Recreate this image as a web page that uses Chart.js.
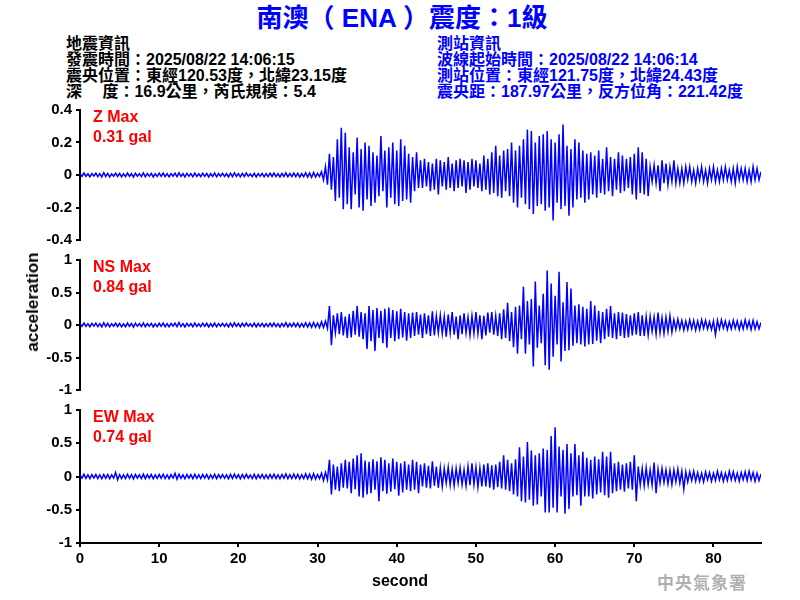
<!DOCTYPE html>
<html>
<head>
<meta charset="utf-8">
<script src="https://cdn.jsdelivr.net/npm/chart.js@4.4.1/dist/chart.umd.min.js"></script>
<style>
body { margin: 0; background: #fff; width: 800px; height: 600px; position: relative; overflow: hidden;
  font-family: Arial, "Liberation Sans", "Noto Sans CJK TC", sans-serif; }
.box { position: absolute; left: 0; width: 800px; }
.txt { position: absolute; white-space: nowrap; font-weight: bold; }
#title { left: 0; width: 804px; top: 3px; text-align: center; font-size: 26px; line-height: 30px; color: #0000ff; text-spacing-trim: space-all; }
.info { font-size: 16px; line-height: 16px; top: 36px; text-spacing-trim: space-all; }
#infoL { left: 66px; color: #000; }
#infoR { left: 437px; color: #0000ff; }
.max { left: 93px; color: #ff0000; font-size: 16px; line-height: 20px; }
#ylab { left: 33px; top: 302px; font-size: 17px; transform: translate(-50%, -50%) rotate(-90deg); }
#xlab { left: 400px; top: 581px; font-size: 16px; transform: translate(-50%, -50%); }
#mark { left: 657px; top: 569px; font-size: 17px; letter-spacing: 1px; color: #b0b0b0; font-family: "Noto Sans CJK TC", serif; }
</style>
</head>
<body>
<div id="title" class="txt">南澳（ ENA ）震度：1級</div>
<div id="infoL" class="txt info">地震資訊<br>發震時間：2025/08/22 14:06:15<br>震央位置：東經120.53度，北緯23.15度<br>深　 度：16.9公里，芮氏規模：5.4</div>
<div id="infoR" class="txt info">測站資訊<br>波線起始時間：2025/08/22 14:06:14<br>測站位置：東經121.75度，北緯24.43度<br>震央距：187.97公里，反方位角：221.42度</div>

<div class="box" style="top:97px;height:156px"><canvas id="chZ"></canvas></div>
<div class="box" style="top:247px;height:156px"><canvas id="chNS"></canvas></div>
<div class="box" style="top:397px;height:203px"><canvas id="chEW"></canvas></div>

<div class="txt max" style="top:107px">Z Max<br>0.31 gal</div>
<div class="txt max" style="top:257px">NS Max<br>0.84 gal</div>
<div class="txt max" style="top:407px">EW Max<br>0.74 gal</div>
<div id="ylab" class="txt">acceleration</div>
<div id="xlab" class="txt">second</div>
<div id="mark" class="txt">中央氣象署</div>

<script>
// every array is sampled each 0.25 s: quiet part 0 .. 29.75 s, strong part 30 .. 86 s
const quietZ = [
  0.01,-0.008,0.012,-0.009,0.007,-0.011,0.009,-0.006,0.011,-0.01,0.008,-0.012,
  0.014,-0.009,0.01,-0.012,0.008,-0.007,0.011,-0.009,0.01,-0.011,0.007,-0.01,
  0.012,-0.008,0.009,-0.013,0.011,-0.007,0.008,-0.01,0.013,-0.011,0.009,-0.008,
  0.01,-0.012,0.007,-0.009,0.011,-0.008,0.012,-0.01,0.008,-0.011,0.009,-0.007,
  0.011,-0.01,0.013,-0.009,0.008,-0.012,0.01,-0.008,0.009,-0.011,0.012,-0.009,
  0.007,-0.01,0.011,-0.008,0.01,-0.012,0.008,-0.009,0.012,-0.011,0.009,-0.007,
  0.01,-0.009,0.008,-0.012,0.011,-0.01,0.013,-0.008,0.009,-0.011,0.01,-0.009,
  0.012,-0.008,0.007,-0.01,0.011,-0.012,0.009,-0.008,0.01,-0.011,0.008,-0.01,
  0.011,-0.009,0.012,-0.01,0.008,-0.012,0.01,-0.009,0.013,-0.011,0.009,-0.01,
  0.012,-0.01,0.011,-0.013,0.009,-0.011,0.014,-0.012,0.012,-0.015,0.016,-0.013]
const strongZ = [
  0.01,-0.01,0.02,-0.03, 0.05,-0.06,0.13,-0.09, 0.11,-0.16,0.22,-0.14, 0.29,-0.21,0.26,-0.18,
  0.17,-0.21,0.14,-0.12, 0.23,-0.2,0.16,-0.22, 0.2,-0.15,0.18,-0.19, 0.14,-0.17,0.12,-0.13,
  0.24,-0.1,0.15,-0.2, 0.17,-0.14,0.2,-0.18, 0.15,-0.19,0.22,-0.16, 0.18,-0.15,0.13,-0.17,
  0.11,-0.1,0.14,-0.08, 0.09,-0.08,0.1,-0.07, 0.08,-0.1,0.07,-0.09, 0.1,-0.12,0.09,-0.07,
  0.08,-0.09,0.11,-0.08, 0.07,-0.1,0.09,-0.08, 0.1,-0.07,0.09,-0.11, 0.08,-0.09,0.1,-0.07,
  0.09,-0.08,0.07,-0.1, 0.12,-0.09,0.1,-0.12, 0.14,-0.11,0.18,-0.13, 0.12,-0.14,0.15,-0.1,
  0.16,-0.13,0.2,-0.17, 0.15,-0.2,0.18,-0.14, 0.22,-0.18,0.28,-0.21, 0.27,-0.24,0.2,-0.19,
  0.24,-0.18,0.25,-0.22, 0.27,-0.2,0.22,-0.28, 0.2,-0.17,0.25,-0.21, 0.31,-0.19,0.18,-0.25,
  0.16,-0.2,0.22,-0.15, 0.2,-0.14,0.15,-0.17, 0.13,-0.15,0.14,-0.12, 0.12,-0.14,0.15,-0.11,
  0.1,-0.12,0.17,-0.1, 0.11,-0.13,0.1,-0.09, 0.14,-0.11,0.12,-0.1, 0.1,-0.08,0.11,-0.12,
  0.13,-0.15,0.17,-0.11, 0.14,-0.12,0.1,-0.13, 0.05,-0.04,0.06,-0.05, 0.06,-0.1,0.09,-0.05,
  0.07,-0.06,0.05,-0.04, 0.09,-0.05,0.04,-0.05, 0.04,-0.05,0.05,-0.03, 0.05,-0.04,0.03,-0.05,
  0.04,-0.03,0.05,-0.04, 0.03,-0.05,0.04,-0.03, 0.05,-0.04,0.03,-0.04, 0.04,-0.03,0.05,-0.03,
  0.03,-0.04,0.04,-0.05, 0.05,-0.03,0.04,-0.03, 0.04,-0.04,0.03,-0.04, 0.05,-0.03,0.04,-0.03,
  0.02]

const quietNS = [
  0.025,-0.02,0.03,-0.022,0.018,-0.027,0.024,-0.019,0.028,-0.025,0.021,-0.03,
  0.035,-0.024,0.026,-0.029,0.02,-0.018,0.027,-0.023,0.025,-0.028,0.019,-0.026,
  0.03,-0.021,0.023,-0.033,0.028,-0.02,0.021,-0.025,0.032,-0.027,0.023,-0.02,
  0.025,-0.03,0.019,-0.024,0.027,-0.021,0.03,-0.026,0.02,-0.028,0.024,-0.019,
  0.028,-0.025,0.038,-0.023,0.021,-0.03,0.025,-0.02,0.023,-0.027,0.03,-0.022,
  0.019,-0.025,0.027,-0.021,0.026,-0.03,0.02,-0.023,0.03,-0.028,0.023,-0.019,
  0.025,-0.022,0.021,-0.03,0.027,-0.025,0.033,-0.021,0.023,-0.028,0.026,-0.022,
  0.03,-0.02,0.019,-0.026,0.028,-0.03,0.023,-0.021,0.025,-0.027,0.021,-0.025,
  0.027,-0.023,0.03,-0.025,0.021,-0.03,0.025,-0.022,0.036,-0.028,0.023,-0.025,
  0.03,-0.025,0.028,-0.032,0.023,-0.028,0.035,-0.03,0.03,-0.037,0.04,-0.034]
const strongNS = [
  0.03,-0.04,0.05,-0.04, 0.06,-0.05,0.29,-0.31, 0.15,-0.12,0.18,-0.14, 0.2,-0.16,0.13,-0.2,
  0.17,-0.19,0.22,-0.15, 0.29,-0.18,0.2,-0.22, 0.18,-0.37,0.29,-0.25, 0.23,-0.4,0.26,-0.2,
  0.22,-0.28,0.25,-0.35, 0.27,-0.2,0.23,-0.25, 0.21,-0.22,0.25,-0.19, 0.2,-0.24,0.18,-0.2,
  0.19,-0.17,0.2,-0.15, 0.16,-0.2,0.18,-0.14, 0.15,-0.17,0.21,-0.16, 0.14,-0.12,0.15,-0.13,
  0.13,-0.18,0.16,-0.12, 0.2,-0.15,0.13,-0.22, 0.15,-0.14,0.18,-0.12, 0.12,-0.16,0.14,-0.13,
  0.2,-0.13,0.15,-0.22, 0.14,-0.16,0.19,-0.12, 0.2,-0.15,0.14,-0.17, 0.18,-0.22,0.24,-0.2,
  0.34,-0.25,0.2,-0.34, 0.28,-0.44,0.3,-0.22, 0.59,-0.44,0.37,-0.3, 0.4,-0.64,0.67,-0.35,
  0.3,-0.28,0.48,-0.62, 0.84,-0.69,0.64,-0.49, 0.45,-0.3,0.82,-0.56, 0.35,-0.4,0.66,-0.39,
  0.56,-0.32,0.3,-0.28, 0.32,-0.3,0.28,-0.33, 0.25,-0.3,0.37,-0.29, 0.3,-0.24,0.22,-0.28,
  0.2,-0.22,0.25,-0.18, 0.29,-0.2,0.18,-0.22, 0.2,-0.17,0.19,-0.2, 0.17,-0.19,0.15,-0.16,
  0.18,-0.15,0.2,-0.17, 0.15,-0.17,0.13,-0.15, 0.13,-0.1,0.12,-0.14, 0.19,-0.12,0.11,-0.13,
  0.12,-0.1,0.14,-0.11, 0.08,-0.07,0.09,-0.06, 0.07,-0.08,0.06,-0.07, 0.08,-0.06,0.07,-0.08,
  0.06,-0.07,0.08,-0.05, 0.07,-0.06,0.05,-0.07, 0.06,-0.15,0.07,-0.06, 0.08,-0.05,0.06,-0.07,
  0.05,-0.06,0.07,-0.05, 0.06,-0.07,0.05,-0.06, 0.08,-0.05,0.06,-0.07, 0.07,-0.06,0.05,-0.06,
  0.04]

const quietEW = [
  0.03,-0.026,0.033,-0.028,0.024,-0.031,0.029,-0.023,0.032,-0.03,0.026,-0.034,
  0.03,-0.027,0.031,-0.033,0.026,-0.024,0.06,-0.05,0.029,-0.032,0.025,-0.03,
  0.034,-0.027,0.029,-0.036,0.031,-0.025,0.027,-0.03,0.035,-0.032,0.028,-0.025,
  0.03,-0.034,0.024,-0.029,0.032,-0.026,0.034,-0.031,0.026,-0.033,0.029,-0.024,
  0.048,-0.042,0.036,-0.029,0.026,-0.034,0.03,-0.025,0.028,-0.032,0.035,-0.027,
  0.025,-0.03,0.032,-0.026,0.031,-0.035,0.026,-0.028,0.034,-0.032,0.028,-0.024,
  0.03,-0.027,0.026,-0.034,0.032,-0.03,0.036,-0.026,0.028,-0.033,0.031,-0.027,
  0.034,-0.025,0.024,-0.031,0.033,-0.034,0.028,-0.026,0.03,-0.032,0.026,-0.03,
  0.032,-0.028,0.034,-0.03,0.026,-0.034,0.03,-0.027,0.04,-0.033,0.028,-0.03,
  0.035,-0.03,0.033,-0.037,0.028,-0.033,0.04,-0.035,0.035,-0.042,0.045,-0.04]
const strongEW = [
  0.03,-0.03,0.05,-0.06, 0.06,-0.05,0.25,-0.27, 0.18,-0.2,0.15,-0.22, 0.2,-0.17,0.25,-0.18,
  0.22,-0.25,0.27,-0.19, 0.32,-0.3,0.35,-0.32, 0.24,-0.27,0.22,-0.25, 0.26,-0.2,0.23,-0.37,
  0.29,-0.22,0.25,-0.26, 0.2,-0.23,0.27,-0.19, 0.22,-0.29,0.2,-0.24, 0.23,-0.2,0.18,-0.22,
  0.25,-0.2,0.22,-0.25, 0.18,-0.15,0.2,-0.17, 0.16,-0.18,0.23,-0.14, 0.15,-0.17,0.13,-0.15,
  0.12,-0.1,0.14,-0.13, 0.11,-0.14,0.12,-0.1, 0.13,-0.12,0.1,-0.14, 0.15,-0.13,0.2,-0.12,
  0.14,-0.16,0.13,-0.15, 0.18,-0.15,0.2,-0.17, 0.17,-0.2,0.18,-0.16, 0.22,-0.18,0.32,-0.2,
  0.25,-0.22,0.2,-0.27, 0.26,-0.3,0.44,-0.37, 0.3,-0.39,0.52,-0.35, 0.39,-0.44,0.32,-0.42,
  0.35,-0.3,0.42,-0.54, 0.4,-0.54,0.61,-0.47, 0.74,-0.54,0.45,-0.3, 0.4,-0.56,0.49,-0.49,
  0.35,-0.3,0.49,-0.28, 0.32,-0.44,0.37,-0.3, 0.28,-0.3,0.25,-0.33, 0.3,-0.27,0.26,-0.24,
  0.37,-0.28,0.3,-0.32, 0.37,-0.25,0.2,-0.22, 0.22,-0.2,0.18,-0.23, 0.2,-0.18,0.22,-0.2,
  0.32,-0.37,0.15,-0.13, 0.12,-0.14,0.13,-0.12, 0.1,-0.13,0.21,-0.25, 0.11,-0.1,0.12,-0.09,
  0.1,-0.11,0.09,-0.12, 0.1,-0.08,0.11,-0.1, 0.08,-0.19,0.07,-0.08, 0.07,-0.06,0.08,-0.07,
  0.06,-0.07,0.05,-0.08, 0.07,-0.05,0.06,-0.07, 0.05,-0.06,0.08,-0.05, 0.06,-0.07,0.05,-0.06,
  0.08,-0.05,0.07,-0.06, 0.05,-0.07,0.06,-0.05, 0.07,-0.06,0.08,-0.05, 0.06,-0.07,0.05,-0.06,
  0.04]

const sampleStep = 0.25
const xTicksMax = 86

function toPoints(quiet, strong) {
    return quiet.concat(strong).map((v, i) => ({x: i * sampleStep, y: v}))
}

const tickFont = {family: 'Arial, "Liberation Sans"', size: 15, weight: 'bold'}

function makeChart(id, quiet, strong, lim, step, showX) {
    return new Chart(document.getElementById(id), {
        type: 'line',
        data: {
            datasets: [{
                data: toPoints(quiet, strong),
                borderColor: '#0000ff',
                borderWidth: 1.5,
                pointRadius: 0,
                tension: 0
            }]
        },
        options: {
            responsive: true,
            maintainAspectRatio: false,
            animation: false,
            layout: {padding: {top: 10, bottom: showX ? 0 : 10, left: 0, right: 39}},
            plugins: {legend: {display: false}, tooltip: {enabled: false}},
            scales: {
                x: {
                    type: 'linear',
                    display: showX,
                    min: 0,
                    max: xTicksMax,
                    afterFit: s => { if (showX) s.height = 57 },
                    grid: {drawOnChartArea: false, tickLength: 4, color: '#000', lineWidth: 2},
                    border: {color: '#000', width: 2},
                    ticks: {stepSize: 10, includeBounds: false, color: '#000', font: tickFont, padding: 3, maxRotation: 0}
                },
                y: {
                    min: -lim,
                    max: lim,
                    afterFit: s => { s.width = 80 },
                    grid: {drawOnChartArea: false, tickLength: 4, color: '#000', lineWidth: 2},
                    border: {color: '#000', width: 2},
                    ticks: {
                        stepSize: step, color: '#000', font: tickFont, padding: 4,
                        callback: v => String(Number(v.toFixed(2)))
                    }
                }
            }
        }
    })
}

makeChart('chZ', quietZ, strongZ, 0.4, 0.2, false)
makeChart('chNS', quietNS, strongNS, 1, 0.5, false)
makeChart('chEW', quietEW, strongEW, 1, 0.5, true)
</script>
</body>
</html>
